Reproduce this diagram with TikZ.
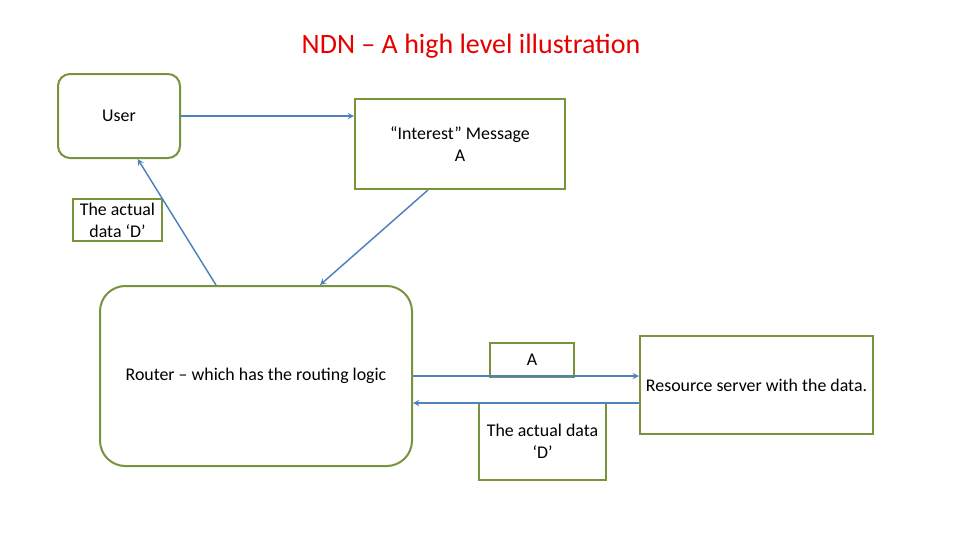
\documentclass[tikz,border=0pt]{standalone}
\usepackage{fontspec}
\setmainfont{Carlito}
\usetikzlibrary{positioning,arrows}
\definecolor{boxgreen}{RGB}{119,147,60}
\definecolor{arrowblue}{RGB}{79,129,189}
\definecolor{titlered}{RGB}{230,0,0}
\begin{document}
\begin{tikzpicture}[x=0.75pt, y=-0.75pt, >=stealth,
    every node/.style={font=\fontsize{13.4}{16.5}\selectfont, align=center},
    gbox/.style={draw=boxgreen, line width=1.5pt, inner sep=0pt},
    flow/.style={->, draw=arrowblue, line width=1.1pt}]
    \useasboundingbox (0,0) rectangle (960,540);
    \node[text=titlered, font=\fontsize{21}{25}\selectfont] (title) at (471,46) {NDN -- A high level illustration};
    \node[gbox, rounded corners=9pt, minimum width=91.5pt, minimum height=63pt] (user) at (119,116) {User};
    \node[gbox, minimum width=157.5pt, minimum height=67.5pt] (interest) at (460,144) {“Interest” Message\\A};
    \node[gbox, minimum width=66.75pt, minimum height=31.5pt] (datalbl) at (117.5,220) {The actual\\data ‘D’};
    \node[gbox, rounded corners=19pt, minimum width=234pt, minimum height=135pt] (router) at (256,376) {Router -- which has the routing logic};
    \node[gbox, minimum width=63pt, minimum height=25.5pt] (msgA) at (532,360) {A};
    \node[gbox, minimum width=95.25pt, minimum height=57.75pt] (databox) at (542.5,441.5) {The actual data\\‘D’};
    \node[gbox, minimum width=174.75pt, minimum height=73.5pt] (server) at (756.5,385) {Resource server with the data.};
    \draw[flow] (user.east) -- (user.east -| interest.west);
    \draw[flow] ([xshift=-24pt]interest.south) -- ([xshift=48pt]router.north);
    \draw[flow] ([xshift=-30pt]router.north) -- ([xshift=14pt]user.south);
    \draw[flow] (router.east) -- (router.east -| server.west);
    \draw[flow] ([yshift=-13.5pt]server.west) -- ([yshift=-13.5pt]server.west -| router.east);
\end{tikzpicture}
\end{document}
